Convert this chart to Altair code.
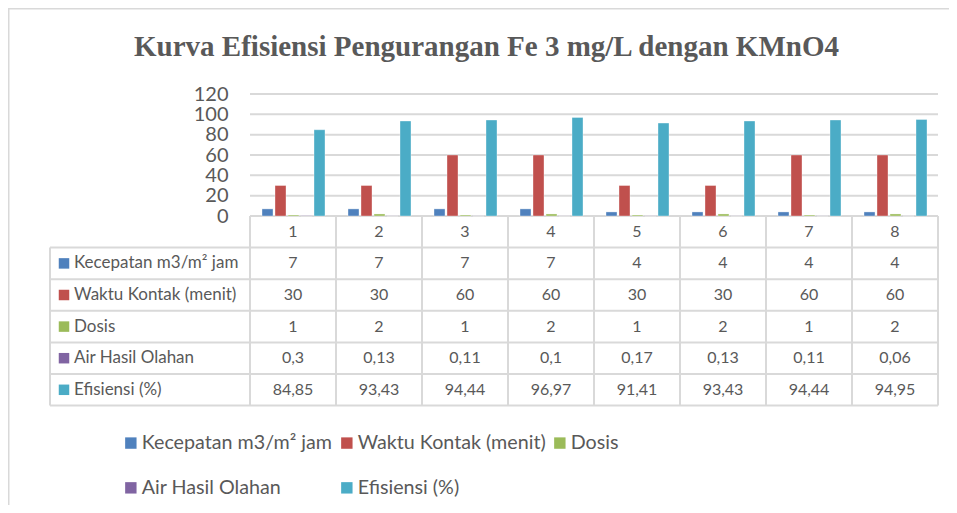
import altair as alt
import pandas as pd

# ---------------- data ----------------
categories = [1, 2, 3, 4, 5, 6, 7, 8]
series_names = ["Kecepatan m3/m² jam", "Waktu Kontak (menit)", "Dosis",
                "Air Hasil Olahan", "Efisiensi (%)"]
kecepatan = [7, 7, 7, 7, 4, 4, 4, 4]
waktu_kontak = [30, 30, 60, 60, 30, 30, 60, 60]
dosis = [1, 2, 1, 2, 1, 2, 1, 2]
air_hasil = [0.3, 0.13, 0.11, 0.1, 0.17, 0.13, 0.11, 0.06]
efisiensi = [84.85, 93.43, 94.44, 96.97, 91.41, 93.43, 94.44, 94.95]
y_ticks = [0, 20, 40, 60, 80, 100, 120]
colors = ["#4F81BD", "#C0504D", "#9BBB59", "#8064A2", "#4BACC6"]
title_text = "Kurva Efisiensi Pengurangan Fe 3 mg/L dengan KMnO4"

series_values = [kecepatan, waktu_kontak, dosis, air_hasil, efisiensi]

# ---------------- layout constants (pixels) ----------------
W, H = 888, 312          # plot area: label column + 8 data columns, bars + table
COL_PX = 86              # width of one category column
LABEL_PX = 200           # width of the series-name column
BASE_PX = 122            # distance from plot top to value 0
ROW_PX = 31.6            # table row height
BAR_LEFT, BAR_STEP, BAR_W = 12, 13, 11
PAD_L, PAD_T, PAD_R, PAD_B = 42, 86, 11, 99
TXT = "#595959"
LINE = "#D9D9D9"
FONT = "Lato"

n_cols = len(categories)
n_rows = 1 + len(series_names)
label_left = -LABEL_PX / COL_PX
ymax = max(y_ticks)

x_scale = alt.Scale(domain=[label_left, n_cols], nice=False, zero=False)
y_bar_scale = alt.Scale(domain=[-(H - BASE_PX) * ymax / BASE_PX, ymax], nice=False, zero=False)
y_tab_scale = alt.Scale(domain=[-BASE_PX / ROW_PX, (H - BASE_PX) / ROW_PX],
                        nice=False, zero=False, reverse=True)

rows = []
for si, (name, vals) in enumerate(zip(series_names, series_values)):
    for c, v in zip(categories, vals):
        rows.append({
            "series": name, "s": si, "col": c, "value": v, "base": 0,
            "label": f"{v:g}".replace(".", ","),
            "bx": c - 1 + (BAR_LEFT + BAR_STEP * si) / COL_PX,
            "bx2": c - 1 + (BAR_LEFT + BAR_STEP * si + BAR_W) / COL_PX,
            "tx": c - 0.5, "ty": si + 1.5,
        })
df = pd.DataFrame(rows)

names_df = pd.DataFrame({"series": series_names,
                         "x": [label_left] * len(series_names),
                         "ty": [i + 1.5 for i in range(len(series_names))]})
header_df = pd.DataFrame({"col": [str(c) for c in categories],
                          "tx": [c - 0.5 for c in categories],
                          "ty": [0.5] * n_cols})

grid_df = pd.DataFrame({"v": y_ticks[1:], "x0": 0, "x1": n_cols})

seg = []
for k in range(n_rows + 1):
    seg.append({"x0": 0 if k == 0 else label_left, "x1": n_cols, "y0": k, "y1": k})
for c in range(n_cols + 1):
    seg.append({"x0": c, "x1": c, "y0": 0, "y1": n_rows})
seg.append({"x0": label_left, "x1": label_left, "y0": 1, "y1": n_rows})
seg_df = pd.DataFrame(seg)

# ---------------- layers ----------------
grid = alt.Chart(grid_df).mark_rule(color=LINE, strokeWidth=2).encode(
    x=alt.X("x0:Q", scale=x_scale, axis=None), x2="x1:Q",
    y=alt.Y("v:Q", scale=y_bar_scale, axis=None),
)

bars = alt.Chart(df).mark_bar(stroke="white", strokeWidth=0.6, strokeOpacity=0.6).encode(
    x=alt.X("bx:Q", scale=x_scale, axis=None), x2="bx2:Q",
    y=alt.Y("value:Q", scale=y_bar_scale,
            axis=alt.Axis(values=y_ticks, offset=-LABEL_PX, labelPadding=22, ticks=False,
                          tickSize=0, domain=False, grid=False, title=None, labelOverlap=False,
                          labelFont=FONT, labelFontSize=20, labelColor=TXT)),
    y2="base:Q",
    color=alt.Color("series:N", scale=alt.Scale(domain=series_names, range=colors),
                    legend=alt.Legend(title=None, orient="none", legendX=71, legendY=339,
                                      direction="horizontal", columns=3, symbolType="square",
                                      symbolSize=130, symbolStrokeWidth=0, labelFont=FONT,
                                      labelFontSize=19.7, labelColor=TXT, labelOffset=1,
                                      columnPadding=4, rowPadding=24, padding=0, labelLimit=0)),
)

lines = alt.Chart(seg_df).mark_rule(color=LINE, strokeWidth=2).encode(
    x=alt.X("x0:Q", scale=x_scale, axis=None), x2="x1:Q",
    y=alt.Y("y0:Q", scale=y_tab_scale, axis=None), y2="y1:Q",
)

header = alt.Chart(header_df).mark_text(font=FONT, fontSize=16, color=TXT, baseline="middle").encode(
    x=alt.X("tx:Q", scale=x_scale, axis=None),
    y=alt.Y("ty:Q", scale=y_tab_scale, axis=None),
    text="col:N",
)

cells = alt.Chart(df).mark_text(font=FONT, fontSize=16, color=TXT, baseline="middle").encode(
    x=alt.X("tx:Q", scale=x_scale, axis=None),
    y=alt.Y("ty:Q", scale=y_tab_scale, axis=None),
    text="label:N",
)

names = alt.Chart(names_df).mark_text(font=FONT, fontSize=17, color=TXT, baseline="middle",
                                      align="left", dx=24).encode(
    x=alt.X("x:Q", scale=x_scale, axis=None),
    y=alt.Y("ty:Q", scale=y_tab_scale, axis=None),
    text="series:N",
)

squares = alt.Chart(names_df).mark_square(size=110, opacity=1, xOffset=14).encode(
    x=alt.X("x:Q", scale=x_scale, axis=None),
    y=alt.Y("ty:Q", scale=y_tab_scale, axis=None),
    color=alt.Color("series:N", scale=alt.Scale(domain=series_names, range=colors), legend=None),
)

# outer chart frame: only its left and top edges fall inside the canvas
one = pd.DataFrame({"a": [0]})
frame = alt.Chart(one).mark_rect(fillOpacity=0, stroke=LINE, strokeWidth=1.5).encode(
    x=alt.value(-PAD_L + 0.75), x2=alt.value(W + PAD_R + 40),
    y=alt.value(-PAD_T + 0.75), y2=alt.value(H + PAD_B + 40))

chart = alt.layer(
    grid, lines, bars, header, cells, names, squares, frame
).resolve_scale(
    y="independent", color="independent"
).properties(
    width=W, height=H,
    autosize="none",
    padding={"left": PAD_L, "top": PAD_T, "right": PAD_R, "bottom": PAD_B},
    title=alt.Title(title_text, font="Liberation Serif", fontSize=29, fontWeight="bold",
                    color=TXT, anchor="middle", frame="group", dx=-7.5, offset=-54),
).configure_view(stroke=None)

chart.save("out.html", embed_options={"renderer": "svg", "actions": False})
